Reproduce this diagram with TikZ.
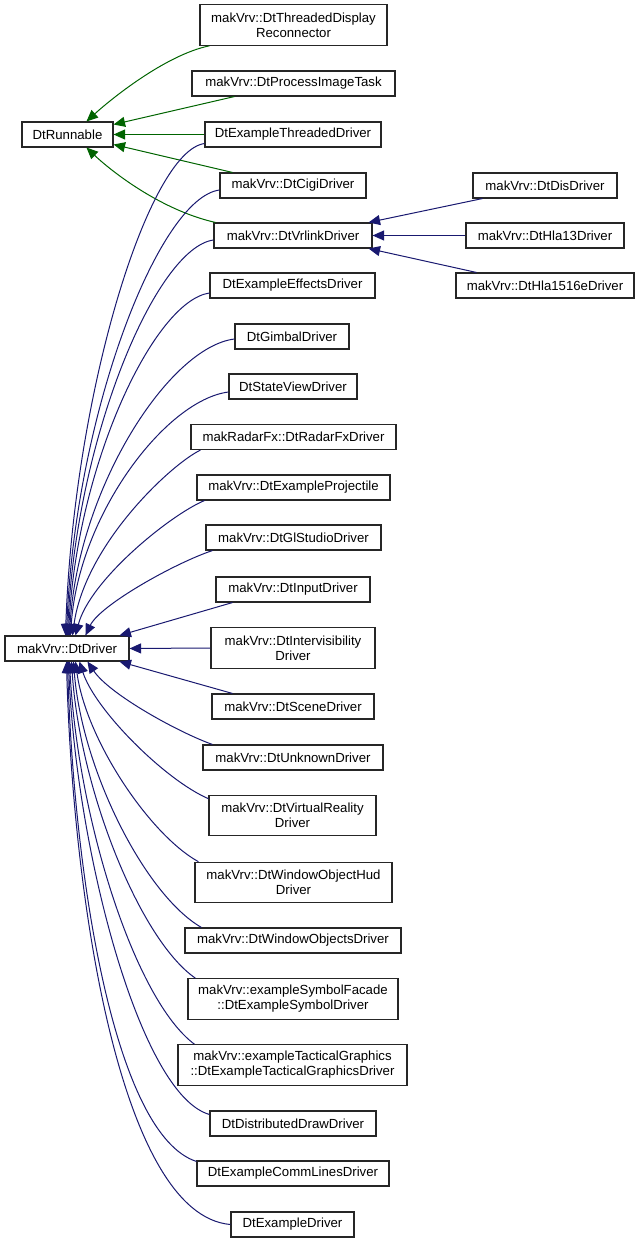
\documentclass[tikz,border=0pt]{standalone}
\usepackage{fontspec}
\setmainfont{Liberation Sans}
\usetikzlibrary{arrows.meta,calc}
\definecolor{gr}{HTML}{006400}
\definecolor{bl}{HTML}{191970}
\begin{document}
\begin{tikzpicture}[x=1pt,y=-1pt,
  box/.style={draw=black!85, line width=1.1pt, fill=white, inner sep=0pt,
    minimum height=25pt, align=center, font=\fontsize{13.2}{15}\selectfont},
  tall/.style={minimum height=40.5pt},
  gedge/.style={draw=gr, line width=1pt, {Triangle[length=11.5pt,width=10pt,fill=gr]}-},
  bedge/.style={draw=bl, line width=1pt, {Triangle[length=11.5pt,width=10pt,fill=bl]}-}]
\useasboundingbox (0,0) rectangle (640,1244);
\fill[white] (0,0) rectangle (640,1244);

% nodes
\node[box, minimum width=91pt]  (runnable) at (67.5,134.5) {DtRunnable};
\node[box, minimum width=124pt] (driver)   at (67,648.5) {makVrv::DtDriver};

\node[box, tall, minimum width=187pt] (recon) at (293.5,25) {makVrv::DtThreadedDisplay\\Reconnector};
\node[box, minimum width=203pt] (procimg)  at (293.5,83.5) {makVrv::DtProcessImageTask};
\node[box, minimum width=176pt] (exthr)    at (293,134.5) {DtExampleThreadedDriver};
\node[box, minimum width=146pt] (cigi)     at (293,185.5) {makVrv::DtCigiDriver};
\node[box, minimum width=158pt] (vrlink)   at (293,235.5) {makVrv::DtVrlinkDriver};
\node[box, minimum width=144pt] (dis)      at (545,185.5) {makVrv::DtDisDriver};
\node[box, minimum width=158pt] (hla13)    at (545,235.5) {makVrv::DtHla13Driver};
\node[box, minimum width=178pt] (hla1516)  at (545,285.5) {makVrv::DtHla1516eDriver};
\node[box, minimum width=165pt] (effects)  at (292.5,285.5) {DtExampleEffectsDriver};
\node[box, minimum width=114pt] (gimbal)   at (292,336.5) {DtGimbalDriver};
\node[box, minimum width=128pt] (stateview) at (293,386.5) {DtStateViewDriver};
\node[box, minimum width=205pt] (radar)    at (293.5,437) {makRadarFx::DtRadarFxDriver};
\node[box, minimum width=193pt] (projectile) at (293.5,487.5) {makVrv::DtExampleProjectile};
\node[box, minimum width=175pt] (glstudio) at (293.5,537.5) {makVrv::DtGlStudioDriver};
\node[box, minimum width=154pt] (input)    at (293,589.5) {makVrv::DtInputDriver};
\node[box, tall, minimum width=164pt] (intervis) at (293,648) {makVrv::DtIntervisibility\\Driver};
\node[box, minimum width=162pt] (scene)    at (293,706.5) {makVrv::DtSceneDriver};
\node[box, minimum width=180pt] (unknown)  at (293,757.5) {makVrv::DtUnknownDriver};
\node[box, tall, minimum width=167pt] (virtual) at (292.5,815.5) {makVrv::DtVirtualReality\\Driver};
\node[box, tall, minimum width=197pt] (hud)     at (293.5,882.5) {makVrv::DtWindowObjectHud\\Driver};
\node[box, minimum width=216pt] (winobjs)  at (293,940.5) {makVrv::DtWindowObjectsDriver};
\node[box, tall, minimum width=210pt] (symbol)   at (293,999) {makVrv::exampleSymbolFacade\\::DtExampleSymbolDriver};
\node[box, tall, minimum width=229pt] (tactical) at (292.5,1065) {makVrv::exampleTacticalGraphics\\::DtExampleTacticalGraphicsDriver};
\node[box, minimum width=166pt] (distdraw) at (293,1123.5) {DtDistributedDrawDriver};
\node[box, minimum width=192pt] (commlines) at (293,1173.5) {DtExampleCommLinesDriver};
\node[box, minimum width=123pt] (exdriver) at (292.5,1224.5) {DtExampleDriver};

% green edges (to DtRunnable)
\draw[gedge] ($(runnable.north west)+(65,0)$) .. controls (110,100) and (165,55) .. ($(recon.south west)+(10,0)$);
\draw[gedge] ($(runnable.east)+(0,-10)$) -- ($(procimg.south west)+(43,0)$);
\draw[gedge] (runnable.east) -- (exthr.west);
\draw[gedge] ($(runnable.east)+(0,10)$) -- ($(cigi.north west)+(13,0)$);
\draw[gedge] ($(runnable.south west)+(65,0)$) .. controls (110,170) and (160,210) .. ($(vrlink.north west)+(2,0)$);

% blue edges (to DtVrlinkDriver)
\draw[bedge] ($(vrlink.north east)+(-4,0)$) -- ($(dis.south west)+(10,0)$);
\draw[bedge] (vrlink.east) -- (hla13.west);
\draw[bedge] ($(vrlink.south east)+(-4,0)$) -- ($(hla1516.north west)+(21,0)$);

% blue edges (to DtDriver), upper
\draw[bedge] ($(driver.north west)+(61,0)$) .. controls (74,390) and (149,151) .. ($(exthr.south west)+(0,-4)$);
\draw[bedge] ($(driver.north west)+(62,0)$) .. controls (75,413) and (159,198) .. ($(cigi.west)+(0,4.5)$);
\draw[bedge] ($(driver.north west)+(63,0)$) .. controls (76,438) and (156,248) .. ($(vrlink.west)+(0,4.5)$);
\draw[bedge] ($(driver.north west)+(64,0)$) .. controls (77,464) and (154,301) .. ($(effects.west)+(0,7.5)$);
\draw[bedge] ($(driver.north west)+(65,0)$) .. controls (78,488) and (169,347) .. ($(gimbal.west)+(0,2.5)$);
\draw[bedge] ($(driver.north west)+(66,0)$) .. controls (79,514) and (166,400) .. ($(stateview.west)+(0,5.5)$);
\draw[bedge] ($(driver.north west)+(68,0)$) .. controls (85,545) and (170,465) .. ($(radar.south west)+(10,0)$);
\draw[bedge] ($(driver.north west)+(71,0)$) .. controls (90,580) and (170,515) .. ($(projectile.south west)+(8,0)$);
\draw[bedge] ($(driver.north west)+(81,0)$) .. controls (100,605) and (175,563) .. ($(glstudio.south west)+(7,0)$);
\draw[bedge] ($(driver.north west)+(115,0)$) -- ($(input.south west)+(17,0)$);
\draw[bedge] (driver.east) -- (intervis.west);

% blue edges (to DtDriver), lower
\draw[bedge] ($(driver.south west)+(115,0)$) -- ($(scene.north west)+(21,0)$);
\draw[bedge] ($(driver.south west)+(83,0)$) .. controls (110,695) and (180,733) .. ($(unknown.north west)+(10,0)$);
\draw[bedge] ($(driver.south west)+(75,0)$) .. controls (95,710) and (165,780) .. ($(virtual.north west)+(0,4)$);
\draw[bedge] ($(driver.south west)+(71,0)$) .. controls (86,740) and (150,835) .. ($(hud.north west)+(4,0)$);
\draw[bedge] ($(driver.south west)+(69,0)$) .. controls (82,770) and (145,895) .. ($(winobjs.north west)+(17,0)$);
\draw[bedge] ($(driver.south west)+(67,0)$) .. controls (80,790) and (140,940) .. ($(symbol.north west)+(8,0)$);
\draw[bedge] ($(driver.south west)+(65,0)$) .. controls (78,820) and (135,1000) .. ($(tactical.north west)+(17,0)$);
\draw[bedge] ($(driver.south west)+(64,0)$) .. controls (76,850) and (140,1095) .. ($(distdraw.north west)+(0,4)$);
\draw[bedge] ($(driver.south west)+(63,0)$) .. controls (74,880) and (115,1135) .. ($(commlines.north west)+(0,1)$);
\draw[bedge] ($(driver.south west)+(62,0)$) .. controls (73,900) and (120,1215) .. (exdriver.west);
\end{tikzpicture}
\end{document}
